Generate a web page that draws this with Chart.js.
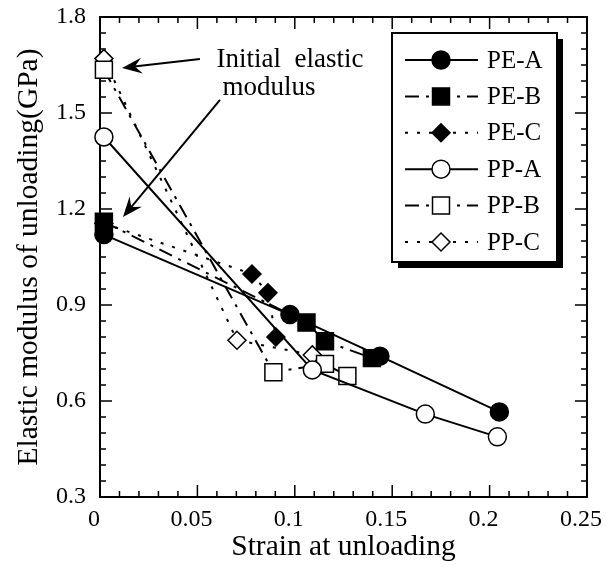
<!DOCTYPE html>
<html>
<head>
<meta charset="utf-8">
<script src="https://cdn.jsdelivr.net/npm/chart.js@4.4.0/dist/chart.umd.min.js"></script>
<style>
  html, body { margin: 0; padding: 0; background: #fff; }
</style>
</head>
<body>
<canvas id="grafico" width="606" height="566"></canvas>
<script>
// valores
const seriesNames = ["PE-A", "PE-B", "PE-C", "PP-A", "PP-B", "PP-C"];

const strainPEA = [0.002, 0.0975, 0.1437, 0.205];
const modPEA    = [1.12, 0.87, 0.74, 0.566];
const strainPEB = [0.002, 0.106, 0.1155, 0.1396];
const modPEB    = [1.16, 0.845, 0.787, 0.734];
const strainPEC = [0.002, 0.078, 0.0862, 0.0903];
const modPEC    = [1.155, 0.997, 0.938, 0.80];
const strainPPA = [0.002, 0.109, 0.167, 0.204];
const modPPA    = [1.425, 0.697, 0.559, 0.488];
const strainPPB = [0.002, 0.089, 0.1155, 0.127];
const modPPB    = [1.635, 0.69, 0.716, 0.678];
const strainPPC = [0.002, 0.0703, 0.109];
const modPPC    = [1.67, 0.79, 0.744];

const xTicks = [0, 0.05, 0.1, 0.15, 0.2, 0.25];
const yTicks = [0.3, 0.6, 0.9, 1.2, 1.5, 1.8];

const FUENTE = "'Liberation Serif', 'Times New Roman', serif";
const graficoCanvas = document.getElementById("grafico");

function puntos(xs, ys) {
  return xs.map((x, i) => ({ x: x, y: ys[i] }));
}

function serie(label, xs, ys, estilo) {
  return Object.assign({
    label: label,
    data: puntos(xs, ys),
    borderColor: "#000",
    borderWidth: 2,
    pointBorderColor: "#000",
    pointBorderWidth: 1.5,
    pointHoverRadius: 9,
    showLine: true,
    tension: 0,
    clip: false
  }, estilo);
}

const datasets = [
  serie(seriesNames[0], strainPEA, modPEA, { pointStyle: "circle", pointRadius: 9, pointBackgroundColor: "#000", borderDash: [] }),
  serie(seriesNames[1], strainPEB, modPEB, { pointStyle: "rect", pointRadius: 12, pointBackgroundColor: "#000", borderDash: [14, 7, 3, 7] }),
  serie(seriesNames[2], strainPEC, modPEC, { pointStyle: "rectRot", pointRadius: 9, pointBackgroundColor: "#000", borderDash: [3, 9] }),
  serie(seriesNames[3], strainPPA, modPPA, { pointStyle: "circle", pointRadius: 9, pointBackgroundColor: "#fff", borderDash: [] }),
  serie(seriesNames[4], strainPPB, modPPB, { pointStyle: "rect", pointRadius: 12, pointBackgroundColor: "#fff", borderDash: [14, 7, 3, 7] }),
  serie(seriesNames[5], strainPPC, modPPC, { pointStyle: "rectRot", pointRadius: 9, pointBackgroundColor: "#fff", borderDash: [3, 9] })
];

// marco con marcas hacia dentro en los cuatro lados
const marcoEjes = {
  id: "marcoEjes",
  beforeDatasetsDraw(chart) {
    const ctx = chart.ctx;
    const { left, right, top, bottom } = chart.chartArea;
    const xs = chart.scales.x, ys = chart.scales.y;
    ctx.save();
    ctx.strokeStyle = "#000";
    ctx.lineWidth = 1.5;
    ctx.beginPath();
    for (let i = 0; i <= 25; i++) {
      const px = xs.getPixelForValue(i * 0.01);
      const len = i % 5 === 0 ? 12 : 6;
      ctx.moveTo(px, bottom); ctx.lineTo(px, bottom - len);
      ctx.moveTo(px, top); ctx.lineTo(px, top + len);
    }
    for (let i = 0; i <= 30; i++) {
      const py = ys.getPixelForValue(0.3 + i * 0.05);
      const len = i % 6 === 0 ? 12 : 6;
      ctx.moveTo(left, py); ctx.lineTo(left + len, py);
      ctx.moveTo(right, py); ctx.lineTo(right - len, py);
    }
    ctx.stroke();
    ctx.lineWidth = 2;
    ctx.strokeRect(left, top, right - left, bottom - top);
    ctx.restore();
  }
};

function flecha(ctx, x1, y1, x2, y2) {
  const ang = Math.atan2(y2 - y1, x2 - x1);
  const L = 20, W = 8;
  ctx.beginPath();
  ctx.moveTo(x1, y1);
  ctx.lineTo(x2 - Math.cos(ang) * 10, y2 - Math.sin(ang) * 10);
  ctx.stroke();
  const bx = x2 - Math.cos(ang) * L, by = y2 - Math.sin(ang) * L;
  const nx = x2 - Math.cos(ang) * (L - 7), ny = y2 - Math.sin(ang) * (L - 7);
  ctx.beginPath();
  ctx.moveTo(x2, y2);
  ctx.lineTo(bx + Math.sin(ang) * W, by - Math.cos(ang) * W);
  ctx.lineTo(nx, ny);
  ctx.lineTo(bx - Math.sin(ang) * W, by + Math.cos(ang) * W);
  ctx.closePath();
  ctx.fill();
}

const anotacion = {
  id: "anotacion",
  afterDatasetsDraw(chart) {
    const ctx = chart.ctx;
    const xs = chart.scales.x, ys = chart.scales.y;
    const P = (x, y) => [xs.getPixelForValue(x), ys.getPixelForValue(y)];
    ctx.save();
    ctx.fillStyle = "#000";
    ctx.strokeStyle = "#000";
    ctx.lineWidth = 2;
    ctx.font = "27px " + FUENTE;
    ctx.textAlign = "center";
    ctx.textBaseline = "middle";
    let p = P(0.0975, 1.666);
    ctx.fillText("Initial  elastic", p[0], p[1]);
    p = P(0.0868, 1.578);
    ctx.fillText("modulus", p[0], p[1]);
    let a = P(0.0513, 1.669), b = P(0.0113, 1.641);
    flecha(ctx, a[0], a[1], b[0], b[1]);
    a = P(0.0616, 1.541); b = P(0.0118, 1.175);
    flecha(ctx, a[0], a[1], b[0], b[1]);
    ctx.restore();
  }
};

// leyenda con sombra, dibujada a partir de los datasets
const leyenda = {
  id: "leyenda",
  afterDraw(chart) {
    const ctx = chart.ctx;
    const bx = 392, by = 33, bw = 165, bh = 229;
    ctx.save();
    ctx.fillStyle = "#000";
    ctx.fillRect(bx + 6, by + 6, bw, bh);
    ctx.fillStyle = "#fff";
    ctx.fillRect(bx, by, bw, bh);
    ctx.strokeStyle = "#000";
    ctx.lineWidth = 2;
    ctx.strokeRect(bx, by, bw, bh);
    chart.data.datasets.forEach((ds, i) => {
      const y = 60 + i * 36.4;
      ctx.setLineDash(ds.borderDash || []);
      ctx.lineWidth = 2;
      ctx.beginPath();
      ctx.moveTo(405, y);
      ctx.lineTo(478, y);
      ctx.stroke();
      ctx.setLineDash([]);
      ctx.fillStyle = ds.pointBackgroundColor;
      ctx.lineWidth = 1.5;
      Chart.helpers.drawPoint(ctx, { pointStyle: ds.pointStyle, radius: ds.pointRadius, borderWidth: 1.5, rotation: 0 }, 441, y);
      ctx.fillStyle = "#000";
      ctx.font = "25px " + FUENTE;
      ctx.textAlign = "left";
      ctx.textBaseline = "middle";
      ctx.fillText(ds.label, 487, y + 1);
    });
    ctx.restore();
  }
};

new Chart(graficoCanvas, {
  type: "scatter",
  data: { datasets: datasets },
  options: {
    responsive: false,
    animation: false,
    layout: { padding: { top: 17, right: 19, left: 0, bottom: 1 } },
    plugins: {
      legend: { display: false },
      tooltip: { enabled: false }
    },
    scales: {
      x: {
        type: "linear",
        min: 0,
        max: 0.25,
        afterBuildTicks: (axis) => { axis.ticks = xTicks.map(v => ({ value: v })); },
        afterFit: (axis) => { axis.height = 68; axis.paddingLeft = 0; axis.paddingRight = 0; },
        grid: { display: false, drawTicks: false },
        border: { display: false },
        ticks: {
          autoSkip: false,
          maxRotation: 0,
          padding: 8,
          labelOffset: -6,
          color: "#000",
          font: { family: FUENTE, size: 24 },
          callback: (v) => String(+v.toFixed(2))
        },
        title: {
          display: true,
          text: "Strain at unloading",
          color: "#000",
          font: { family: FUENTE, size: 29.5, lineHeight: 1.2 },
          padding: { top: 0, bottom: 0 }
        }
      },
      y: {
        type: "linear",
        min: 0.3,
        max: 1.8,
        afterBuildTicks: (axis) => { axis.ticks = yTicks.map(v => ({ value: v })); },
        afterFit: (axis) => { axis.width = 100; axis.paddingTop = 0; axis.paddingBottom = 0; },
        grid: { display: false, drawTicks: false },
        border: { display: false },
        ticks: {
          autoSkip: false,
          padding: 14,
          color: "#000",
          font: { family: FUENTE, size: 24 },
          callback: (v) => v.toFixed(1)
        },
        title: {
          display: true,
          text: "Elastic modulus of unloading(GPa)",
          color: "#000",
          font: { family: FUENTE, size: 29.5, lineHeight: 1.2 },
          padding: { top: 12, bottom: 0 }
        }
      }
    }
  },
  plugins: [marcoEjes, anotacion, leyenda]
});
</script>
</body>
</html>
